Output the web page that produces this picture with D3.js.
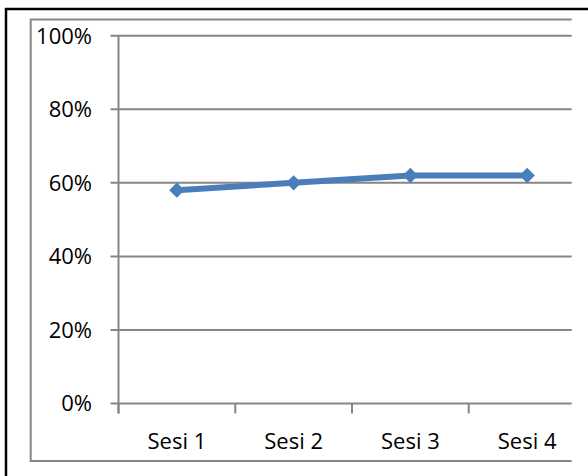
<!DOCTYPE html>
<html><head><meta charset="utf-8">
<script src="https://cdn.jsdelivr.net/npm/d3@7"></script>
<style>html,body{margin:0;padding:0;background:#fff;}svg{display:block;}</style>
</head><body>
<svg id="chart" width="588" height="476"></svg>
<script>
const categories = ["Sesi 1", "Sesi 2", "Sesi 3", "Sesi 4"];
const values = [0.58, 0.60, 0.62, 0.62];
const yTicks = [0, 0.2, 0.4, 0.6, 0.8, 1.0];

(function () {
const svg = d3.select("#chart");
const W = 588, H = 476;
const pLeft = 118.5, pRight = 585.5, pTop = 35.7, pBottom = 403.5, clipRight = 571.7;

// outer black frame (clipped at right/bottom)
svg.append("rect").attr("x", 6).attr("y", 9).attr("width", 600).attr("height", 500)
  .attr("fill", "none").attr("stroke", "#000").attr("stroke-width", 2.5);

// inner gray frame (right side not visible)
svg.append("path").attr("d", `M${clipRight},19.5H30.7V461H${clipRight}`)
  .attr("fill", "none").attr("stroke", "#868686").attr("stroke-width", 2);

const x = d3.scaleBand().domain(categories).range([pLeft, pRight]).padding(0);
const y = d3.scaleLinear().domain([0, 1]).range([pBottom, pTop]);

svg.append("clipPath").attr("id", "clip").append("rect")
  .attr("x", 0).attr("y", 0).attr("width", clipRight).attr("height", H);

const g = svg.append("g").attr("clip-path", "url(#clip)");

// gridlines
g.selectAll("line.grid").data(yTicks).join("line").attr("class", "grid")
  .attr("x1", pLeft - 8).attr("x2", pRight).attr("y1", d => y(d)).attr("y2", d => y(d))
  .attr("stroke", "#868686").attr("stroke-width", 2);

// y axis line
g.append("line").attr("x1", pLeft).attr("x2", pLeft).attr("y1", pTop).attr("y2", pBottom + 10)
  .attr("stroke", "#868686").attr("stroke-width", 2);

// x ticks at category boundaries
g.selectAll("line.xt").data(categories).join("line").attr("class", "xt")
  .attr("x1", d => x(d)).attr("x2", d => x(d)).attr("y1", pBottom).attr("y2", pBottom + 10)
  .attr("stroke", "#868686").attr("stroke-width", 2);

// y labels
svg.selectAll("text.yl").data(yTicks).join("text").attr("class", "yl")
  .attr("x", 92).attr("y", d => y(d)).attr("dy", "0.36em").attr("text-anchor", "end")
  .attr("font-family", "'Open Sans', sans-serif").attr("font-size", 22).attr("fill", "#000")
  .text(d => d3.format(".0%")(d));

// x labels
svg.selectAll("text.xl").data(categories).join("text").attr("class", "xl")
  .attr("x", d => x(d) + x.bandwidth() / 2).attr("y", 441).attr("dy", "0.36em")
  .attr("text-anchor", "middle")
  .attr("font-family", "'Open Sans', sans-serif").attr("font-size", 22).attr("fill", "#000")
  .text(d => d);

const pts = categories.map((c, i) => [x(c) + x.bandwidth() / 2, y(values[i])]);

svg.append("path").attr("d", d3.line()(pts)).attr("fill", "none")
  .attr("stroke", "#4a7ebb").attr("stroke-width", 6).attr("stroke-linejoin", "round");

svg.selectAll("path.mk").data(pts).join("path").attr("class", "mk")
  .attr("d", d3.symbol().type(d3.symbolDiamond2).size(150))
  .attr("transform", d => `translate(${d[0]},${d[1]})`)
  .attr("fill", "#4a7ebb");
})();
</script>
</body></html>
